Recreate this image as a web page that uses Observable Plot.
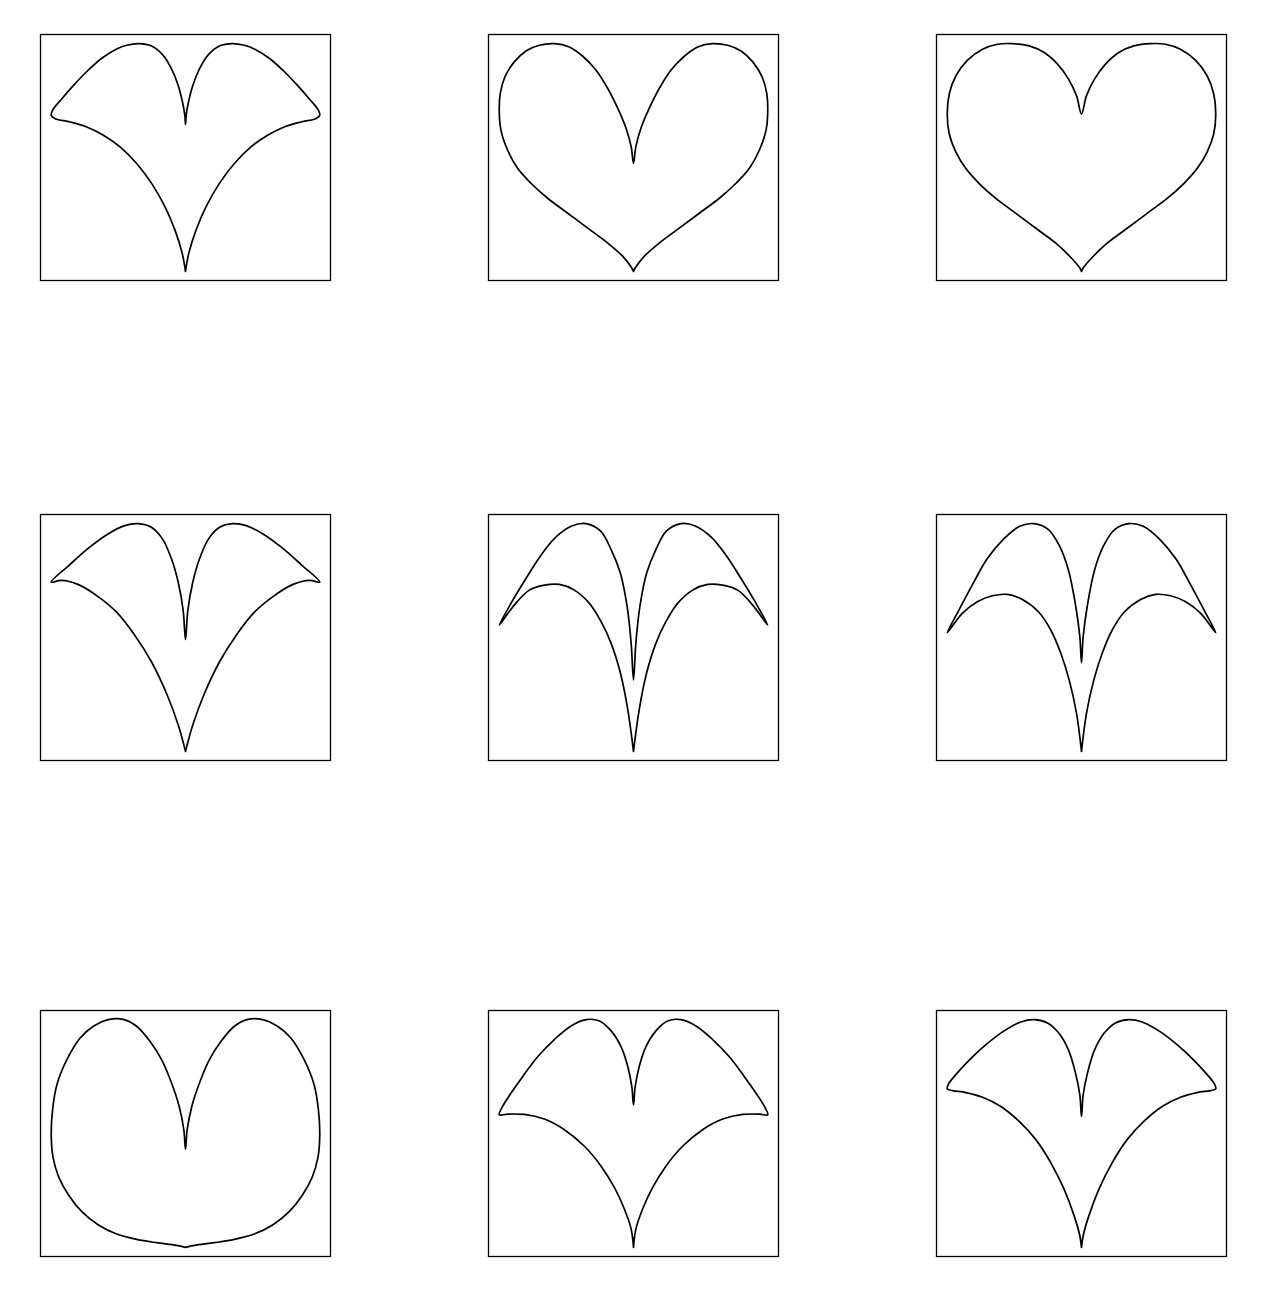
<!DOCTYPE html>
<html>
<head>
<meta charset="utf-8">
<script src="https://cdn.jsdelivr.net/npm/d3@7"></script>
<script src="https://cdn.jsdelivr.net/npm/@observablehq/plot@0.6"></script>
<style>
  html, body { margin: 0; padding: 0; background: #fff; }
  #chart { position: relative; width: 1268px; height: 1302px; background: #fff; }
  #chart .panel { position: absolute; }
</style>
</head>
<body>
<div id="chart"></div>
<script>
// Curve outlines, [x, y] in arbitrary units (y up).
const heart1 = [[0,25],[-10,80],[-32,150],[-62,220],[-102,290],[-147,350],[-197,400],[-247,435],[-297,460],[-347,475],[-392,485],[-404,495],
  [-399,512],[-372,545],[-337,585],[-297,627],[-252,667],[-207,695],[-177,706],[-142,711],[-102,704],[-69,678],[-42,635],[-22,585],[-9,535],[-2,495],[0,468],
  [2,495],[9,535],[22,585],[42,635],[69,678],[102,704],[142,711],[177,706],[207,695],[252,667],[297,627],[337,585],[372,545],[399,512],
  [404,495],[392,485],[347,475],[297,460],[247,435],[197,400],[147,350],[102,290],[62,220],[32,150],[10,80],[0,25]];
const heart2 = [[0,25],[-7,38],[-32,70],[-77,110],[-137,155],[-197,200],[-257,245],[-307,290],[-347,335],[-377,390],[-397,450],[-402,510],
  [-399,560],[-385,610],[-357,655],[-322,688],[-282,705],[-237,710],[-192,700],[-152,672],[-112,630],[-77,575],[-47,515],[-22,455],[-7,400],[0,350],
  [7,400],[22,455],[47,515],[77,575],[112,630],[152,672],[192,700],[237,710],[282,705],[322,688],[357,655],[385,610],[399,560],
  [402,510],[397,450],[377,390],[347,335],[307,290],[257,245],[197,200],[137,155],[77,110],[32,70],[7,38],[0,25]];
const heart3 = [[0,25],[-7,38],[-32,67],[-77,110],[-137,155],[-197,200],[-257,245],[-307,290],[-347,335],[-377,385],[-397,440],[-403,500],
  [-397,560],[-377,615],[-342,662],[-297,695],[-252,710],[-207,712],[-157,705],[-112,685],[-72,650],[-39,605],[-15,555],[0,500],
  [15,555],[39,605],[72,650],[112,685],[157,705],[207,712],[252,710],[297,695],[342,662],[377,615],[397,560],
  [403,500],[397,440],[377,385],[347,335],[307,290],[257,245],[197,200],[137,155],[77,110],[32,67],[7,38],[0,25]];
const heart4 = [[0,25],[-22,105],[-57,200],[-102,295],[-152,375],[-207,445],[-267,495],[-322,528],[-372,540],[-402,535],
  [-347,587],[-287,640],[-232,680],[-182,705],[-142,711],[-102,700],[-69,665],[-42,605],[-22,535],[-7,450],[0,362],
  [7,450],[22,535],[42,605],[69,665],[102,700],[142,711],[182,705],[232,680],[287,640],[347,587],
  [402,535],[372,540],[322,528],[267,495],[207,445],[152,375],[102,295],[57,200],[22,105],[0,25]];
const heart5 = [[0,25],[-17,150],[-39,260],[-67,350],[-97,415],[-132,470],[-177,510],[-222,527],[-267,525],[-312,510],[-357,465],[-402,405],
  [-367,470],[-322,545],[-277,615],[-232,670],[-185,703],[-142,710],[-99,688],[-67,632],[-39,560],[-19,460],[-7,350],[0,240],
  [7,350],[19,460],[39,560],[67,632],[99,688],[142,710],[185,703],[232,670],[277,615],[322,545],[367,470],
  [402,405],[357,465],[312,510],[267,525],[222,527],[177,510],[132,470],[97,415],[67,350],[39,260],[17,150],[0,25]];
const heart6 = [[0,25],[-15,140],[-37,240],[-62,320],[-92,390],[-129,445],[-177,482],[-222,497],[-267,493],[-312,475],[-357,440],[-402,382],
  [-367,450],[-322,535],[-282,605],[-232,665],[-185,702],[-142,710],[-99,692],[-67,645],[-39,570],[-17,460],[-5,370],[0,292],
  [5,370],[17,460],[39,570],[67,645],[99,692],[142,710],[185,702],[232,665],[282,605],[322,535],[367,450],
  [402,382],[357,440],[312,475],[267,493],[222,497],[177,482],[129,445],[92,390],[62,320],[37,240],[15,140],[0,25]];
const heart7 = [[0,28],[-27,34],[-87,42],[-147,52],[-207,68],[-262,95],[-312,135],[-352,185],[-382,240],[-399,300],[-404,365],
  [-400,440],[-387,515],[-357,590],[-317,655],[-277,690],[-232,710],[-185,710],[-147,690],[-107,645],[-72,590],[-42,520],[-19,450],[-5,380],[0,322],
  [5,380],[19,450],[42,520],[72,590],[107,645],[147,690],[185,710],[232,710],[277,690],[317,655],[357,590],[387,515],[400,440],
  [404,365],[399,300],[382,240],[352,185],[312,135],[262,95],[207,68],[147,52],[87,42],[27,34],[0,28]];
const heart8 = [[0,25],[-7,80],[-27,140],[-57,205],[-97,270],[-147,330],[-207,380],[-267,412],[-327,426],[-377,427],[-402,425],
  [-392,450],[-367,490],[-332,540],[-287,600],[-237,652],[-187,693],[-142,712],[-102,708],[-67,678],[-37,630],[-17,570],[-5,510],[0,455],
  [5,510],[17,570],[37,630],[67,678],[102,708],[142,712],[187,693],[237,652],[287,600],[332,540],[367,490],[392,450],
  [402,425],[377,427],[327,426],[267,412],[207,380],[147,330],[97,270],[57,205],[27,140],[7,80],[0,25]];
const heart9 = [[0,25],[-5,60],[-22,120],[-52,200],[-92,280],[-137,350],[-187,405],[-242,450],[-297,478],[-347,492],[-387,498],[-403,503],
  [-399,518],[-372,552],[-337,590],[-292,632],[-237,675],[-182,705],[-142,712],[-102,702],[-67,670],[-39,620],[-19,555],[-5,485],[0,420],
  [5,485],[19,555],[39,620],[67,670],[102,702],[142,712],[182,705],[237,675],[292,632],[337,590],[372,552],[399,518],
  [403,503],[387,498],[347,492],[297,478],[242,450],[187,405],[137,350],[92,280],[52,200],[22,120],[5,60],[0,25]];

const panels = [heart1, heart2, heart3, heart4, heart5, heart6, heart7, heart8, heart9];

// layout (page pixels)
const colLeft = [39, 487, 935];
const rowTop = [33, 513, 1009];
const W = 292, H = 248;

function padded(values) {
  const [lo, hi] = d3.extent(values);
  const r = hi - lo;
  return [lo - 0.04 * r, hi + 0.04 * r];
}

const chart = document.getElementById("chart");
panels.forEach((pts, i) => {
  const svg = Plot.plot({
    width: W,
    height: H,
    margin: 1,
    style: {background: "white", overflow: "visible"},
    x: {domain: padded(pts.map(d => d[0])), axis: null},
    y: {domain: padded(pts.map(d => d[1])), axis: null},
    marks: [
      Plot.frame({stroke: "black", strokeWidth: 1.3}),
      Plot.line(pts, {x: d => d[0], y: d => d[1], stroke: "black", strokeWidth: 1.7, curve: "catmull-rom"})
    ]
  });
  svg.classList.add("panel");
  svg.style.left = colLeft[i % 3] + "px";
  svg.style.top = rowTop[Math.floor(i / 3)] + "px";
  chart.appendChild(svg);
});
</script>
</body>
</html>
